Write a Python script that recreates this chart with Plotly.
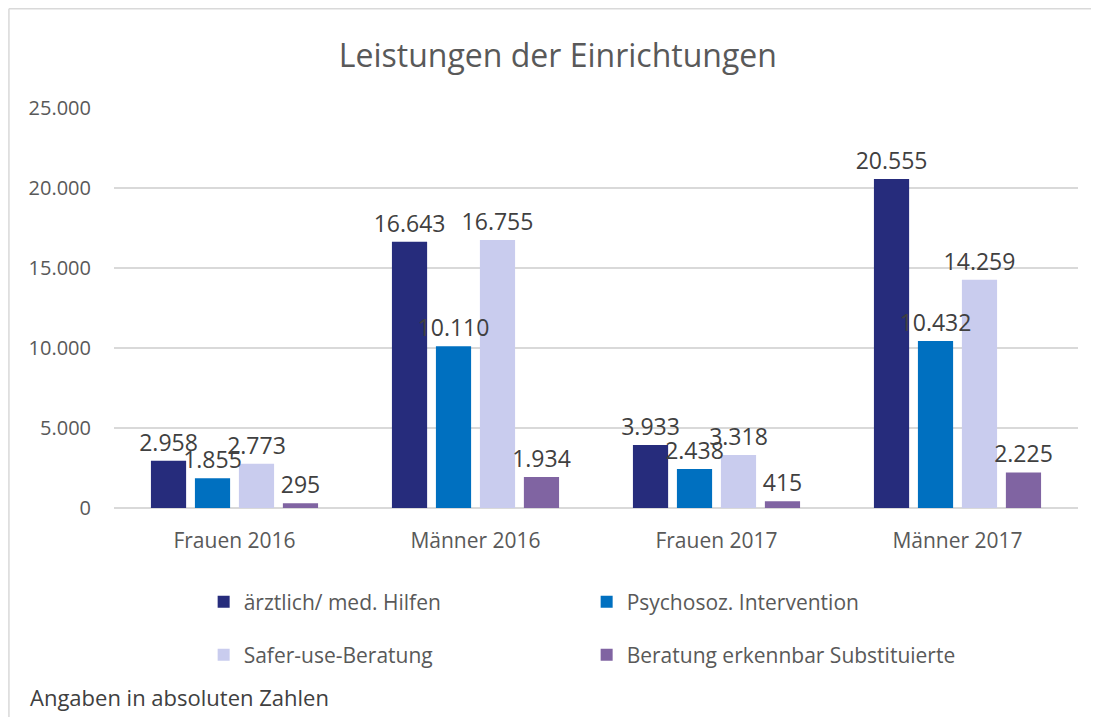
import plotly.graph_objects as go

categories = ["Frauen 2016", "Männer 2016", "Frauen 2017", "Männer 2017"]
series_names = ["ärztlich/ med. Hilfen", "Psychosoz. Intervention",
                "Safer-use-Beratung", "Beratung erkennbar Substituierte"]
aerztlich = [2958, 16643, 3933, 20555]
psychosoz = [1855, 10110, 2438, 10432]
safer_use = [2773, 16755, 3318, 14259]
substituierte = [295, 1934, 415, 2225]

series_values = [aerztlich, psychosoz, safer_use, substituierte]
colors = ["#262C7C", "#0070C0", "#C9CCEE", "#8064A2"]
legend_ids = ["legend", "legend", "legend2", "legend2"]

FONT = "Open Sans"
fig = go.Figure()
# bars
for i, (name, vals, col, lg) in enumerate(zip(series_names, series_values, colors, legend_ids)):
    fig.add_trace(go.Bar(
        x=categories, y=vals, name=name, marker_color=col,
        marker_line_width=0, offsetgroup=str(i),
        legend=lg,
    ))
# data labels drawn on top of all bars (same offset groups, transparent bars)
for i, vals in enumerate(series_values):
    fig.add_trace(go.Bar(
        x=categories, y=vals, offsetgroup=str(i), showlegend=False,
        marker_color="rgba(0,0,0,0)", marker_line_width=0,
        texttemplate="%{y:,}", textposition="outside", cliponaxis=False,
        constraintext="none", hoverinfo="skip",
        textfont=dict(family=FONT, size=23, color="#404040"),
    ))

fig.update_layout(
    width=1091, height=709,
    paper_bgcolor="white", plot_bgcolor="white",
    separators=",.",
    margin=dict(l=106, r=21, t=100, b=209),
    barmode="group", bargap=0.27, bargroupgap=0.2,
    title=dict(text="Leistungen der Einrichtungen", x=0.504, xanchor="center",
               y=0.932, yanchor="middle",
               font=dict(family=FONT, size=32, color="#595959")),
    font=dict(family=FONT, color="#595959"),
    legend=dict(orientation="h", x=0.093, y=-0.235, xanchor="left", yanchor="middle",
                entrywidth=338, entrywidthmode="pixels",
                font=dict(family=FONT, size=21, color="#595959"),
                bgcolor="rgba(0,0,0,0)"),
    legend2=dict(orientation="h", x=0.093, y=-0.3675, xanchor="left", yanchor="middle",
                 entrywidth=338, entrywidthmode="pixels",
                 font=dict(family=FONT, size=21, color="#595959"),
                 bgcolor="rgba(0,0,0,0)"),
    showlegend=True,
)
fig.update_yaxes(range=[0, 25000], dtick=5000, tickformat=",d",
                 showgrid=True, gridcolor="#D9D9D9", gridwidth=1.5,
                 zeroline=True, zerolinecolor="#D9D9D9", zerolinewidth=1.5,
                 showline=False, ticks="", ticklen=0, ticklabelstandoff=22,
                 tickfont=dict(family=FONT, size=20, color="#595959"))
fig.update_xaxes(showline=False, ticks="", showgrid=False, ticklabelstandoff=18,
                 tickfont=dict(family=FONT, size=21, color="#595959"))

fig.add_annotation(text="Angaben in absoluten Zahlen", xref="paper", yref="paper",
                   x=-0.089, y=-0.473, xanchor="left", yanchor="middle", showarrow=False,
                   font=dict(family=FONT, size=22, color="#404040"))

# chart-area border (top and left edges)
fig.add_shape(type="line", xref="paper", yref="paper", x0=-0.109, x1=1.03, y0=1.248, y1=1.248,
              line=dict(color="#D9D9D9", width=1.5))
fig.add_shape(type="line", xref="paper", yref="paper", x0=-0.109, x1=-0.109, y0=1.248, y1=-0.53,
              line=dict(color="#D9D9D9", width=1.5))

fig.write_html("out.html")
